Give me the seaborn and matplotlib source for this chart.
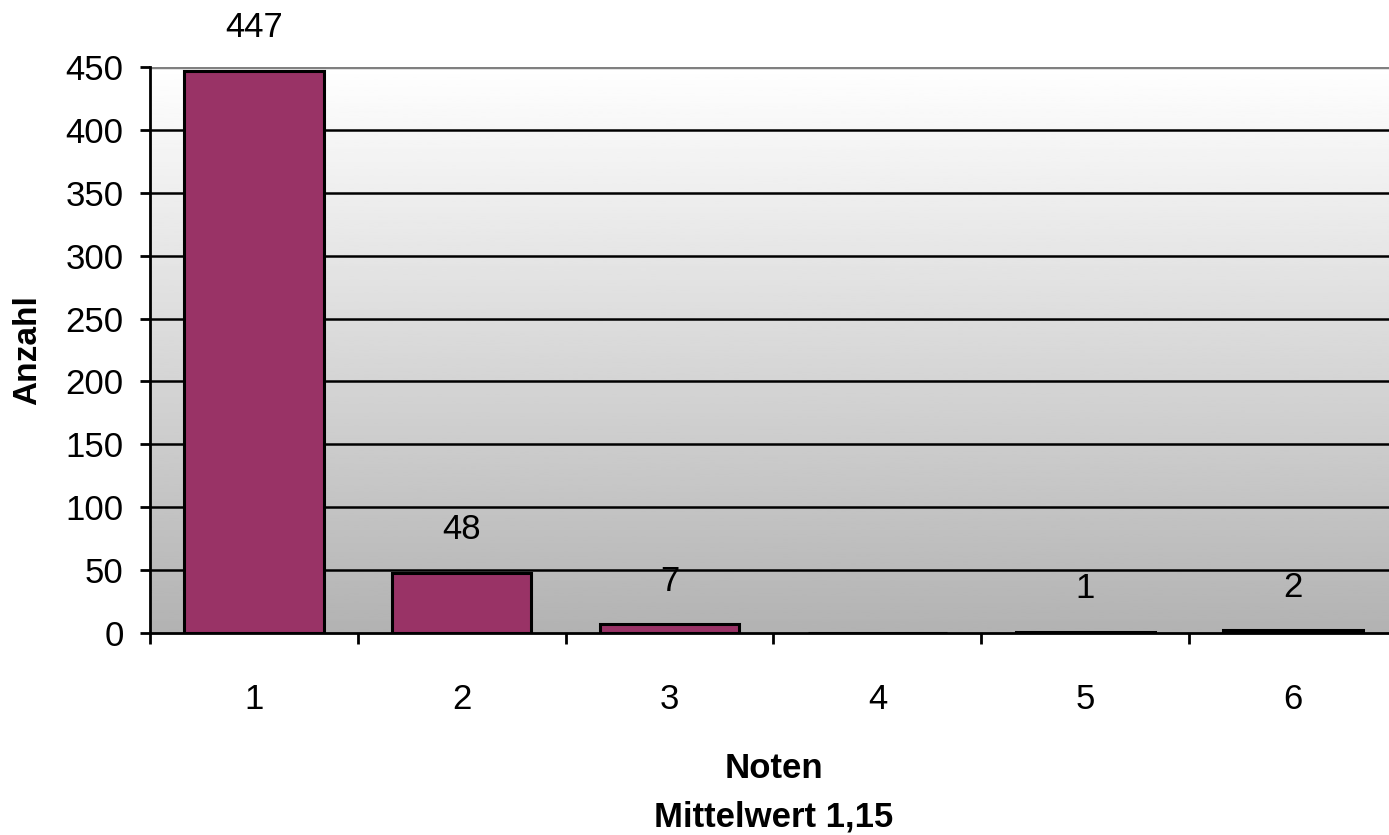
import numpy as np
import pandas as pd
import matplotlib
matplotlib.use("Agg")
import matplotlib.pyplot as plt
import seaborn as sns

# Notenverteilung
noten = ["1", "2", "3", "4", "5", "6"]
anzahl = [447, 48, 7, 0, 1, 2]
y_ticks = [0, 50, 100, 150, 200, 250, 300, 350, 400, 450]
mittelwert_text = "Mittelwert 1,15"

sns.set_style("white")
plt.rcParams["font.family"] = ["Liberation Sans", "DejaVu Sans"]
plt.rcParams["text.color"] = "black"
plt.rcParams["axes.labelcolor"] = "black"
plt.rcParams["xtick.color"] = "black"
plt.rcParams["ytick.color"] = "black"

df = pd.DataFrame({"Note": noten, "Anzahl": anzahl})

fig = plt.figure(figsize=(13.89, 8.35), dpi=100)
ax = fig.add_axes([150 / 1389, 202 / 835, 1247 / 1389, 566 / 835])

# grey gradient background (white at top, grey at bottom)
grad = np.linspace(0.70, 1.0, 256).reshape(-1, 1)
ax.imshow(grad, cmap="gray", vmin=0, vmax=1, aspect="auto", origin="lower",
          extent=[0, 1, 0, 1], transform=ax.transAxes, zorder=0)

sns.barplot(data=df, x="Note", y="Anzahl", color="#993366", width=0.67,
            edgecolor="black", linewidth=2.2, saturation=1, ax=ax, zorder=2)

ax.set_xlim(-0.5, 5.5)
ax.set_ylim(0, 450)
ax.set_yticks(y_ticks)

# horizontal grid lines
for v in y_ticks[1:-1]:
    ax.axhline(v, color="black", linewidth=1.8, zorder=1)

# data labels above bars
for i, v in enumerate(anzahl):
    if v == 0:
        continue
    ax.annotate(str(v), xy=(i, v), xytext=(0, 31), textcoords="offset points",
                ha="center", va="center", fontsize=25, color="black")

# spines
for side in ["top", "right"]:
    ax.spines[side].set_visible(False)
ax.axhline(450, color="#808080", linewidth=2.5, zorder=1)
ax.spines["left"].set_color("black")
ax.spines["left"].set_linewidth(2)
ax.spines["bottom"].set_color("black")
ax.spines["bottom"].set_linewidth(2)

# ticks: y outward, x boundaries as minor ticks
ax.tick_params(axis="y", which="major", direction="out", length=7, width=2,
               color="black", labelsize=25, pad=12, left=True)
ax.set_xticks(range(len(noten)))
ax.set_xticklabels(noten)
ax.set_xticks(np.arange(-0.5, 6.0, 1.0), minor=True)
ax.tick_params(axis="x", which="major", length=0, labelsize=25, pad=36)
ax.tick_params(axis="x", which="minor", direction="out", length=8, width=2,
               color="black", bottom=True)

ax.set_xlabel("Noten\n" + mittelwert_text, fontsize=25, fontweight="bold",
              labelpad=26, linespacing=1.6)
ax.set_ylabel("Anzahl", fontsize=24, fontweight="bold", labelpad=16)

fig.savefig("out.png", dpi=100)
